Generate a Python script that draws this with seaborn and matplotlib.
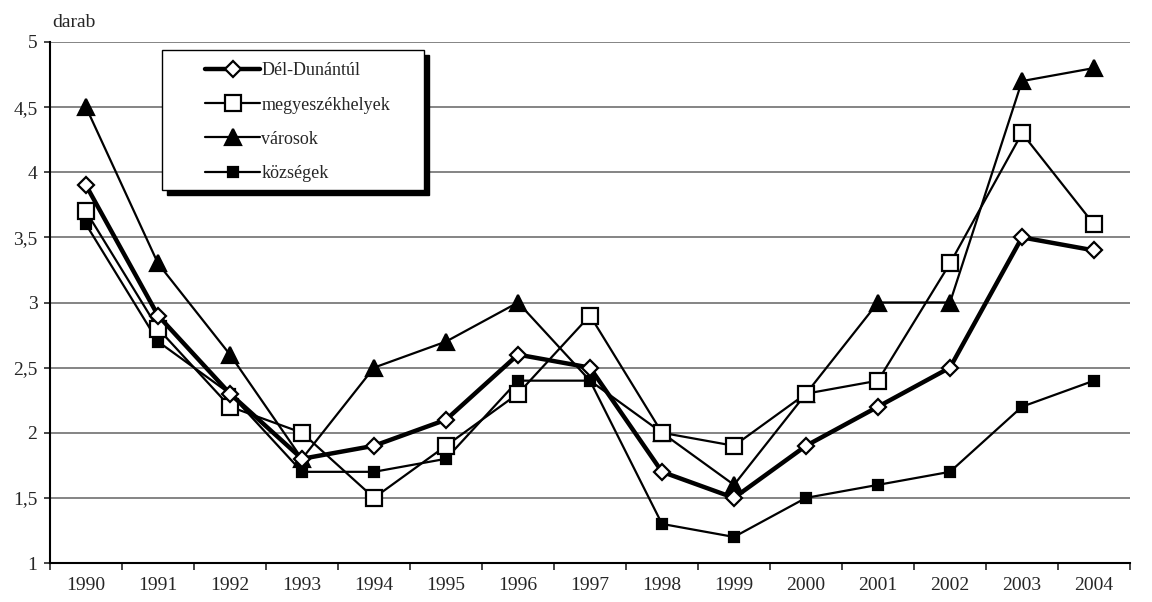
import numpy as np
import pandas as pd
import seaborn as sns
import matplotlib.pyplot as plt
from matplotlib.patches import Rectangle

# Adatok
evek = [1990, 1991, 1992, 1993, 1994, 1995, 1996, 1997, 1998, 1999, 2000, 2001, 2002, 2003, 2004]
del_dunantul = [3.9, 2.9, 2.3, 1.8, 1.9, 2.1, 2.6, 2.5, 1.7, 1.5, 1.9, 2.2, 2.5, 3.5, 3.4]
megyeszekhelyek = [3.7, 2.8, 2.2, 2.0, 1.5, 1.9, 2.3, 2.9, 2.0, 1.9, 2.3, 2.4, 3.3, 4.3, 3.6]
varosok = [4.5, 3.3, 2.6, 1.8, 2.5, 2.7, 3.0, 2.4, 2.0, 1.6, 2.3, 3.0, 3.0, 4.7, 4.8]
kozsegek = [3.6, 2.7, 2.3, 1.7, 1.7, 1.8, 2.4, 2.4, 1.3, 1.2, 1.5, 1.6, 1.7, 2.2, 2.4]

sns.set_style("white")
plt.rcParams['font.family'] = ['Liberation Serif', 'DejaVu Serif']

df = pd.DataFrame({
    'poz': list(range(len(evek))) * 4,
    'ertek': varosok + kozsegek + megyeszekhelyek + del_dunantul,
    'sorozat': (['városok'] * 15 + ['községek'] * 15
                + ['megyeszékhelyek'] * 15 + ['Dél-Dunántúl'] * 15),
})

# 1997-ben a városok jelölője takarásban van az eredetin
minden = list(range(len(evek)))
stilus = {
    'városok': dict(marker='^', ms=11, mfc='black', lw=1.6, every=[i for i in minden if i != 7]),
    'községek': dict(marker='s', ms=7, mfc='black', lw=1.6, every=minden),
    'megyeszékhelyek': dict(marker='s', ms=12, mfc='white', lw=1.6, every=minden),
    'Dél-Dunántúl': dict(marker='D', ms=8, mfc='white', lw=3.2, every=minden),
}

fig = plt.figure(figsize=(11.52, 6.02), dpi=100)
ax = fig.add_axes([50 / 1152, 1 - 563 / 602, 1080 / 1152, 521 / 602])

for nev, s in stilus.items():
    sns.lineplot(data=df[df['sorozat'] == nev], x='poz', y='ertek', ax=ax,
                 color='black', linewidth=s['lw'], marker=s['marker'],
                 markersize=s['ms'], markerfacecolor=s['mfc'],
                 markeredgecolor='black', markeredgewidth=1.6,
                 markevery=s['every'], label=nev)

ax.set_xlim(-0.5, 14.5)
ax.set_ylim(1, 5)
ax.set_yticks(np.arange(1, 5.01, 0.5))
ax.set_yticklabels(['1', '1,5', '2', '2,5', '3', '3,5', '4', '4,5', '5'], fontsize=14)
ax.set_xticks(np.arange(-0.5, 14.6, 1))
ax.set_xticklabels([])
ax.set_xticks(range(len(evek)), minor=True)
ax.set_xticklabels([str(e) for e in evek], minor=True, fontsize=14)
ax.tick_params(axis='x', which='major', length=5, width=1.2, direction='out', bottom=True)
ax.tick_params(axis='x', which='minor', length=0, pad=10)
ax.tick_params(axis='y', length=4, width=1.2, direction='out', left=True, pad=5)
ax.set_xlabel('')
ax.set_ylabel('')
ax.grid(axis='y', color='#707070', linewidth=1.2)
ax.set_axisbelow(True)
for sp in ['top', 'right']:
    ax.spines[sp].set_visible(False)
for sp in ['left', 'bottom']:
    ax.spines[sp].set_color('black')
    ax.spines[sp].set_linewidth(1.5)

fig.text(52 / 1152, 1 - 27 / 602, 'darab', fontsize=14)

# jelmagyarázat keret árnyékkal (pixelben)
W, H = 1152, 602
fig.patches.append(Rectangle((167 / W, 1 - 195 / H), 262 / W, 140 / H, transform=fig.transFigure,
                             facecolor='black', edgecolor='black', zorder=2))
fig.patches.append(Rectangle((162 / W, 1 - 190 / H), 262 / W, 140 / H, transform=fig.transFigure,
                             facecolor='white', edgecolor='black', linewidth=1.0, zorder=3))

h, l = ax.get_legend_handles_labels()
ax.get_legend().remove()
sorrend = [l.index(n) for n in ['Dél-Dunántúl', 'megyeszékhelyek', 'városok', 'községek']]
leg = fig.legend([h[i] for i in sorrend], [l[i] for i in sorrend],
                 loc='upper left', bbox_to_anchor=(191 / W, 1 - 48 / H),
                 bbox_transform=fig.transFigure, fontsize=13, frameon=False,
                 handlelength=3.0, numpoints=1, borderpad=0.3, labelspacing=0.95,
                 handletextpad=0.1)
leg.set_zorder(10)

plt.savefig('out.png', dpi=100)
